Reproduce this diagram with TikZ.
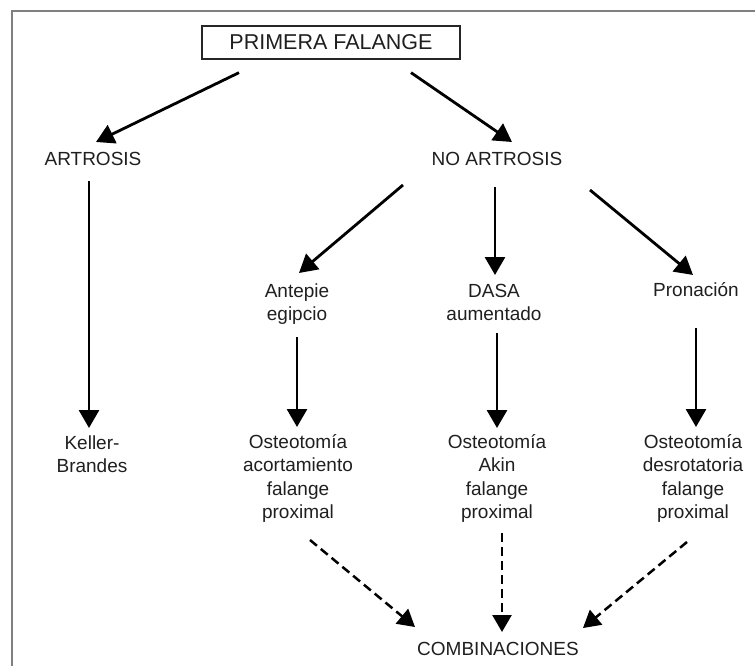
\documentclass[tikz,border=0pt]{standalone}
\usepackage{fontspec}
\setmainfont{Liberation Sans}
\usetikzlibrary{arrows.meta,calc}
\newcommand{\mlines}[1]{\begin{tabular}[t]{@{}c@{}}#1\end{tabular}}
\tikzset{
  lbl/.style={anchor=base, inner sep=0pt, text=black!88, font=\fontsize{19}{23.5}\selectfont},
  headbox/.style={draw=black!85, line width=1.3pt, minimum width=258pt, minimum height=33pt, inner sep=0pt, text=black!88, font=\fontsize{21.5}{25}\selectfont},
  arr/.style={line width=2.8pt, black, -{Triangle[length=18pt,width=20pt]}},
  darr/.style={line width=2.5pt, black, dash pattern=on 9pt off 5pt, -{Triangle[length=17pt,width=19pt]}},
  frame/.style={draw=black!50, line width=2pt}
}
\begin{document}
\begin{tikzpicture}[x=1pt,y=-1pt]
\useasboundingbox (0,0) rectangle (755,666);
\draw[frame] (12,666) -- (12,11) -- (755,11);

\node[headbox] (pf) at (331,42.5) {PRIMERA FALANGE};
\node[lbl] (art) at (93,165) {ARTROSIS};
\node[lbl] (noart) at (497,165) {NO ARTROSIS};
\node[lbl] (ant) at (297,297) {\mlines{Antepie\\egipcio}};
\node[lbl] (dasa) at (494,297) {\mlines{DASA\\aumentado}};
\node[lbl] (pron) at (696,296) {Pronación};
\node[lbl] (keller) at (92,449) {\mlines{Keller-\\Brandes}};
\node[lbl] (ost1) at (298,448) {\mlines{Osteotomía\\acortamiento\\falange\\proximal}};
\node[lbl] (ost2) at (497,448) {\mlines{Osteotomía\\Akin\\falange\\proximal}};
\node[lbl] (ost3) at (693,448) {\mlines{Osteotomía\\desrotatoria\\falange\\proximal}};
\node[lbl] (comb) at (498,655) {COMBINACIONES};

\draw[arr] ($(pf.south)+(-92,13)$) -- ($(art.base)+(3,-23)$);
\draw[arr] ($(pf.south)+(80,13)$) -- ($(noart.base)+(15,-23)$);
\draw[arr] ($(art.base)+(-4,16)$) -- ($(keller.base)+(-3,-21)$);
\draw[arr] ($(noart.base)+(-94,20)$) -- ($(ant.base)+(2,-24)$);
\draw[arr] ($(noart.base)+(-2,22)$) -- ($(dasa.base)+(1,-22)$);
\draw[arr] ($(noart.base)+(93,25)$) -- ($(pron.base)+(-3,-21)$);
\draw[arr] ($(ant.base)+(0,40)$) -- ($(ost1.base)+(-1,-21)$);
\draw[arr] ($(dasa.base)+(3,36)$) -- ($(ost2.base)+(0,-20)$);
\draw[arr] ($(pron.base)+(0,32)$) -- ($(ost3.base)+(3,-21)$);
\draw[darr] ($(ost1.base)+(12,92)$) -- ($(comb.base)+(-83,-28)$);
\draw[darr] ($(ost2.base)+(5,85)$) -- ($(comb.base)+(4,-23)$);
\draw[darr] ($(ost3.base)+(-6,94)$) -- ($(comb.base)+(85,-27)$);
\end{tikzpicture}
\end{document}
